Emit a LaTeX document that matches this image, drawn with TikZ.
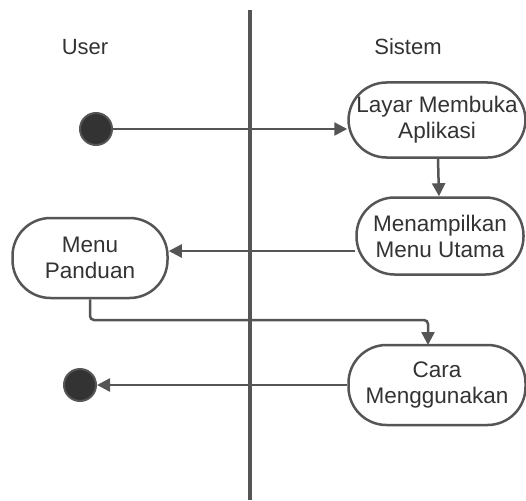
\documentclass[tikz,border=0pt]{standalone}
\usepackage{fontspec}
\setmainfont{Liberation Sans}
\usetikzlibrary{arrows.meta}
\definecolor{ln}{HTML}{555555}
\definecolor{tx}{HTML}{333333}
\begin{document}
\begin{tikzpicture}[x=1pt,y=-1pt,
  act/.style={draw=ln,line width=2.5pt,rounded corners=38pt,align=center,text=tx,font=\fontsize{22.5}{26}\selectfont,inner sep=0pt},
  dot/.style={circle,draw=ln,line width=2pt,fill=tx,minimum size=32pt,inner sep=0pt},
  flow/.style={draw=ln,line width=2.5pt,-{Triangle[length=13pt,width=13pt]}},
  lbl/.style={text=tx,font=\fontsize{22}{26}\selectfont}]
\useasboundingbox (0,0) rectangle (526,500);
\fill[white] (0,0) rectangle (526,500);
\draw[ln,line width=4pt] (250,10) coordinate (lt) -- (250,500) coordinate (lb);
\node[lbl] (user) at (85,47) {User};
\node[lbl] (sistem) at (408,47) {Sistem};
\node[dot] (start) at (96,129) {};
\node[act,minimum width=177pt,minimum height=75pt] (layar) at (437,120) {Layar Membuka\\Aplikasi};
\node[act,minimum width=167pt,minimum height=77pt] (menu) at (440,236) {Menampilkan\\Menu Utama};
\node[act,minimum width=155pt,minimum height=80pt] (panduan) at (90,258) {Menu\\Panduan};
\node[act,minimum width=177pt,minimum height=80pt] (cara) at (437,385) {Cara\\Menggunakan};
\node[dot] (end) at (80,385) {};
\draw[flow] (start) -- (start -| layar.west);
\draw[flow] (layar) -- (menu);
\draw[flow] (menu.west |- 0,251) -- (panduan.east |- 0,251);
\draw[flow,rounded corners=4pt] (panduan.south) -- (90,320) -- (428,320) -- (428,345);
\draw[flow] (cara.west) -- (end);
\end{tikzpicture}
\end{document}
